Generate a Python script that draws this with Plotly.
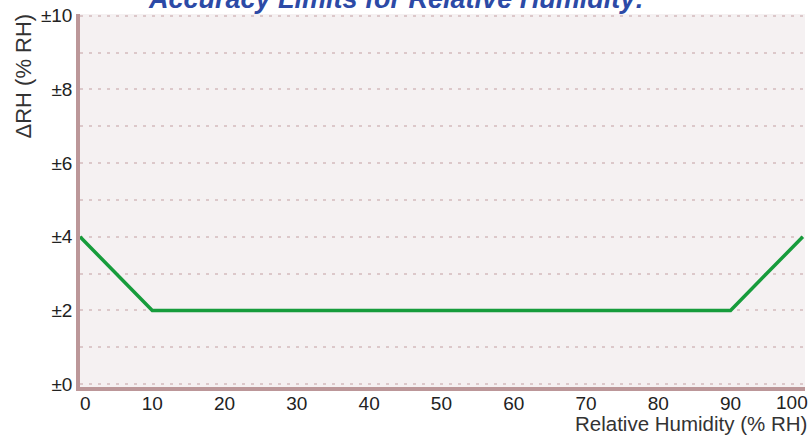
import plotly.graph_objects as go

rh = [0, 10, 90, 100]
accuracy = [4, 2, 2, 4]

y_tickvals = list(range(0, 11))
y_ticktext = ["±%d" % v if v % 2 == 0 else "" for v in y_tickvals]
x_tickvals = list(range(0, 91, 10))
x_ticktext = [str(v) for v in x_tickvals]
x_ticktext[0] = "\u00a0\u00a0" + x_ticktext[0]
x_end_tickval = 100
x_end_ticktext = "100"

FONT = "Liberation Sans, Arial, sans-serif"

fig = go.Figure()
fig.add_trace(go.Scatter(x=rh, y=accuracy, mode="lines",
                         line=dict(color="#179c3c", width=3.5),
                         cliponaxis=False, showlegend=False))

tickfont = dict(size=19, family=FONT, color="#222222")

fig.update_layout(
    width=810, height=447,
    margin=dict(l=80, r=5, t=14, b=60),
    paper_bgcolor="white",
    plot_bgcolor="#f5f1f2",
    font=dict(family=FONT, color="#222222", size=19),
    xaxis=dict(range=[0, 100.3], tickvals=x_tickvals, ticktext=x_ticktext,
               showgrid=False, zeroline=False, showline=True,
               linecolor="#bc9799", linewidth=3.5, ticks="", ticklen=0,
               ticklabelstandoff=-4, ticklabeloverflow="allow",
               tickfont=tickfont, automargin=False),
    yaxis=dict(range=[-0.08, 10.05], tickvals=y_tickvals, ticktext=y_ticktext,
               showgrid=True, gridcolor="#dcc8ca", griddash="3px,6px", gridwidth=2,
               zeroline=False, showline=True,
               linecolor="#bc9799", linewidth=3.5, ticks="", ticklen=0,
               ticklabeloverflow="allow",
               tickfont=tickfont, automargin=False),
    annotations=[
        dict(text=x_end_ticktext, xref="x", yref="paper", x=x_end_tickval, y=0,
             xshift=-11, yshift=-15, xanchor="center", yanchor="middle",
             borderpad=0, showarrow=False, font=tickfont),
        dict(text="<b><i>Accuracy Limits for Relative Humidity:</i></b>",
             xref="paper", yref="paper", x=0, y=1.0, xshift=316, yshift=-2,
             xanchor="center", yanchor="bottom", showarrow=False,
             font=dict(family=FONT, size=27, color="#2c4aa6")),
        dict(text="ΔRH (% RH)", textangle=-90,
             xref="paper", yref="paper", x=0, y=1.0, xshift=-57, yshift=2,
             xanchor="center", yanchor="top", showarrow=False,
             font=dict(family=FONT, size=22, color="#333333")),
        dict(text="Relative Humidity (% RH)",
             xref="paper", yref="paper", x=1.0, y=0, xshift=3, yshift=-24,
             xanchor="right", yanchor="top", borderpad=0, showarrow=False,
             font=dict(family=FONT, size=20.5, color="#333333")),
    ],
)

fig.write_html("out.html", config={"displayModeBar": False},
               post_script="document.body.style.margin='0';")
